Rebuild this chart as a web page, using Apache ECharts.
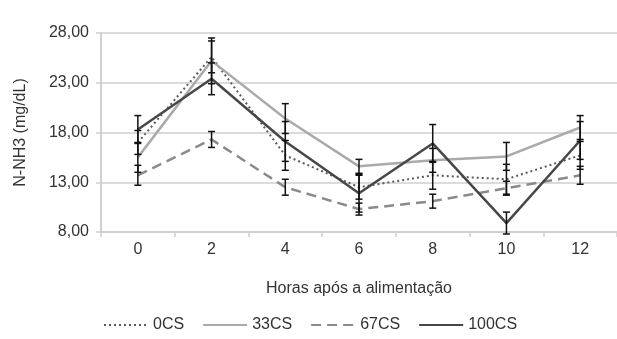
<!DOCTYPE html>
<html>
<head>
<meta charset="utf-8">
<script src="https://cdn.jsdelivr.net/npm/echarts@6/dist/echarts.min.js"></script>
<style>
	html, body { margin: 0; padding: 0; background: #fff; }
	#chart { width: 617px; height: 339px; }
</style>
</head>
<body>
<div id="chart"></div>
<script>
	// horas após a alimentação
	var hours = ['0', '2', '4', '6', '8', '10', '12'];
	var seriesNames = ['0CS', '33CS', '67CS', '100CS'];

	var cs0 = [17.0, 25.6, 15.7, 12.5, 13.7, 13.3, 15.7];
	var cs33 = [15.5, 25.2, 19.4, 14.6, 15.2, 15.6, 18.5];
	var cs67 = [13.7, 17.3, 12.5, 10.3, 11.1, 12.4, 13.7];
	var cs100 = [18.3, 23.4, 17.1, 11.9, 16.9, 8.9, 17.2];

	// desvio (barras de erro)
	var err0 = [1.2, 1.6, 1.5, 1.2, 1.4, 1.5, 1.4];
	var err33 = [1.5, 2.3, 1.5, 0.7, 1.2, 1.4, 1.2];
	var err67 = [1.0, 0.8, 0.8, 0.6, 0.7, 0.7, 0.9];
	var err100 = [1.4, 1.6, 2.0, 1.9, 1.9, 1.1, 1.9];

	var yTicks = { min: 8, max: 28, interval: 5 };

	var font = 'Liberation Sans, Arial, sans-serif';

	function errData(vals, errs) {
		var out = [];
		for (var i = 0; i < vals.length; i++) {
			out.push([i, vals[i] - errs[i], vals[i] + errs[i]]);
		}
		return out;
	}

	function renderErr(params, api) {
		var lo = api.coord([api.value(0), api.value(1)]);
		var hi = api.coord([api.value(0), api.value(2)]);
		var w = 3.5;
		var st = { stroke: '#111', lineWidth: 1.5 };
		return {
			type: 'group',
			children: [
				{ type: 'line', shape: { x1: hi[0], y1: hi[1], x2: lo[0], y2: lo[1] }, style: st },
				{ type: 'line', shape: { x1: hi[0] - w, y1: hi[1], x2: hi[0] + w, y2: hi[1] }, style: st },
				{ type: 'line', shape: { x1: lo[0] - w, y1: lo[1], x2: lo[0] + w, y2: lo[1] }, style: st }
			]
		};
	}

	function lineSeries(name, data, color, width, type) {
		return {
			name: name,
			type: 'line',
			data: data,
			symbol: 'none',
			color: color,
			lineStyle: { color: color, width: width, type: type },
			z: 3
		};
	}

	function errSeries(vals, errs) {
		return {
			type: 'custom',
			renderItem: renderErr,
			data: errData(vals, errs),
			encode: { x: 0, y: [1, 2] },
			silent: true,
			z: 4
		};
	}

	var chart = echarts.init(document.getElementById('chart'));
	chart.setOption({
		animation: false,
		textStyle: { fontFamily: font },
		legend: {
			data: seriesNames,
			bottom: 1,
			left: 98,
			itemWidth: 44,
			itemHeight: 10,
			itemGap: 18,
			itemStyle: { opacity: 0 },
			textStyle: { color: '#333', fontSize: 16, fontFamily: font }
		},
		grid: {
			top: 33,
			left: 101,
			right: -2,
			bottom: 107
		},
		xAxis: {
			type: 'category',
			data: hours,
			boundaryGap: true,
			name: 'Horas após a alimentação',
			nameLocation: 'middle',
			nameGap: 49,
			nameTextStyle: { color: '#333', fontSize: 16 },
			axisLine: { lineStyle: { color: '#d0d0d0', width: 2 } },
			axisTick: { show: true, length: 5, lineStyle: { color: '#d0d0d0', width: 1.5 } },
			axisLabel: { color: '#333', fontSize: 16, margin: 10 }
		},
		yAxis: {
			type: 'value',
			min: yTicks.min,
			max: yTicks.max,
			interval: yTicks.interval,
			name: 'N-NH3 (mg/dL)',
			nameLocation: 'middle',
			nameRotate: 90,
			nameGap: 72,
			nameTextStyle: { color: '#333', fontSize: 16 },
			axisLine: { show: true, lineStyle: { color: '#d0d0d0', width: 2 } },
			axisTick: { show: true, length: 5, lineStyle: { color: '#d0d0d0', width: 1.5 } },
			splitLine: { lineStyle: { color: '#cfcfcf', width: 1.5 } },
			axisLabel: {
				color: '#333',
				fontSize: 16,
				margin: 12,
				formatter: function (v) { return v.toFixed(2).replace('.', ','); }
			}
		},
		series: [
			lineSeries(seriesNames[0], cs0, '#5a5a5a', 2, [2, 3]),
			lineSeries(seriesNames[1], cs33, '#aaaaaa', 2.5, 'solid'),
			lineSeries(seriesNames[2], cs67, '#8a8a8a', 2.5, [10, 6]),
			lineSeries(seriesNames[3], cs100, '#474747', 2.5, 'solid'),
			errSeries(cs0, err0),
			errSeries(cs33, err33),
			errSeries(cs67, err67),
			errSeries(cs100, err100)
		]
	});
</script>
</body>
</html>
